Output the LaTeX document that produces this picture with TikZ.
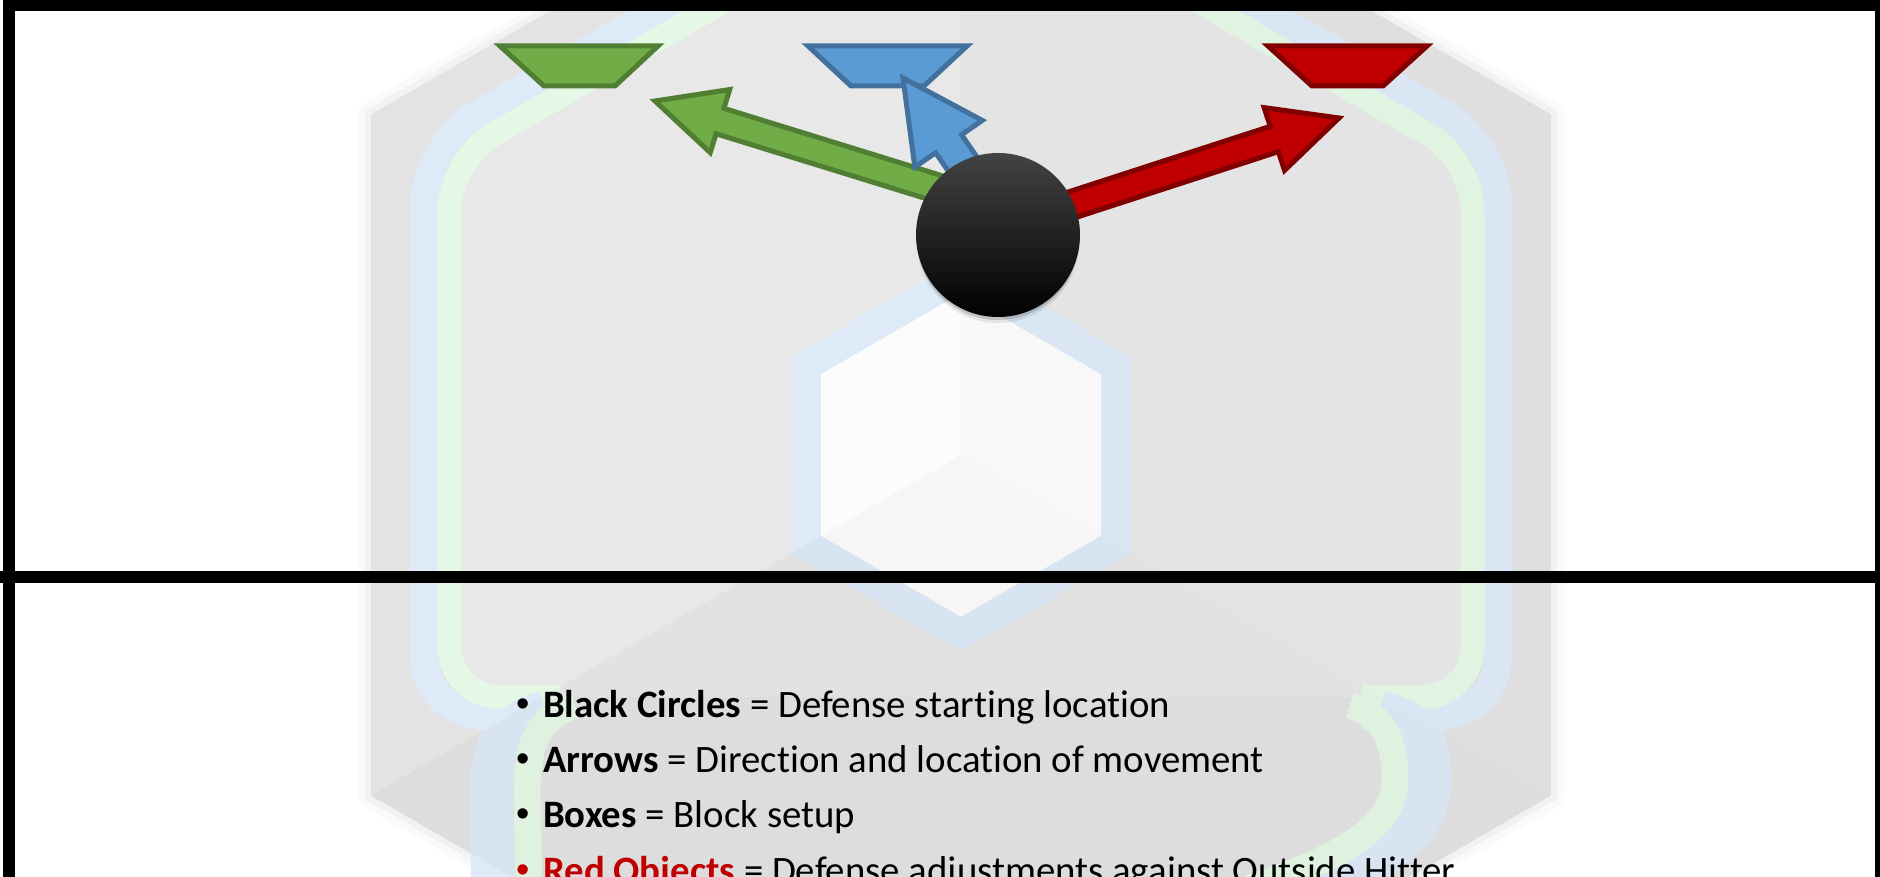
\documentclass[tikz,border=0pt]{standalone}
\usepackage{fontspec}
\setmainfont{Carlito}[Ligatures=NoCommon]
\newfontfamily\bulletfont{Liberation Sans}
\usetikzlibrary{calc}
\definecolor{grnfill}{HTML}{70AD47}
\definecolor{grnline}{HTML}{507E32}
\definecolor{blufill}{HTML}{5B9BD5}
\definecolor{bluline}{HTML}{41719C}
\definecolor{redfill}{HTML}{C00000}
\definecolor{redline}{HTML}{800000}
\definecolor{hexgrey}{HTML}{E3E3E3}
\definecolor{ugrey}{HTML}{E8E8E8}
\definecolor{wmblue}{HTML}{DEEAF8}
\definecolor{wmgreen}{HTML}{E5F8E5}
\definecolor{ringblue}{HTML}{DEEAF8}
\definecolor{cubewhite}{HTML}{FCFCFC}
\definecolor{glowA}{HTML}{FAFAFA}
\definecolor{glowB}{HTML}{F2F2F2}
\definecolor{balltop}{HTML}{434343}
\newcommand\blockarrow[7]{%
  \coordinate (#1-b) at ($(#3)!#6!(#2)$);
  \draw[#7] ($(#2)!#4!90:(#3)$) -- ($(#1-b)!#4!90:(#3)$) -- ($(#1-b)!#5!90:(#3)$)
    -- (#3) -- ($(#1-b)!#5!-90:(#3)$) -- ($(#1-b)!#4!-90:(#3)$) -- ($(#2)!#4!-90:(#3)$) -- cycle;
}
\tikzset{
  greenshape/.style={fill=grnfill, draw=grnline, line width=5pt},
  blueshape/.style={fill=blufill, draw=bluline, line width=5pt},
  redshape/.style={fill=redfill, draw=redline, line width=5pt},
  frameline/.style={draw=black, line width=12pt},
  legend/.style={anchor=base west, inner sep=0pt, font=\fontsize{38.8}{46}\selectfont},
  bulletmark/.style={anchor=base west, inner sep=0pt, font=\bulletfont\fontsize{38}{46}\selectfont},
}
\begin{document}
\begin{tikzpicture}[x=1pt,y=-1pt]
\useasboundingbox (0,0) rectangle (1880,877);
\clip (0,0) rectangle (1880,877);
\fill[white] (0,0) rectangle (1880,877);
% ---------- watermark ----------
\coordinate (hT) at (961,-226.3);
\coordinate (hUR) at (1551,114.4);
\coordinate (hLR) at (1551,795.6);
\coordinate (hB) at (961,1136.3);
\coordinate (hLL) at (371,795.6);
\coordinate (hUL) at (371,114.4);
\coordinate (hC) at (961,455);
\draw[glowA, line width=26pt, line join=round] (hT) -- (hUR) -- (hLR) -- (hB) -- (hLL) -- (hUL) -- cycle;
\draw[glowB, line width=12pt, line join=round] (hT) -- (hUR) -- (hLR) -- (hB) -- (hLL) -- (hUL) -- cycle;
\fill[hexgrey] (hT) -- (hUR) -- (hLR) -- (hB) -- (hLL) -- (hUL) -- cycle;
% interior of the U
\fill[ugrey, rounded corners=50pt] (560,697) -- (449.5,697) -- (449.5,160) -- (961,-136) -- (1472.5,160) -- (1472.5,697) -- (1362,697) -- cycle;
% U bands
\draw[wmblue, line width=28pt, rounded corners=60pt] (560,716) -- (424,716) -- (424,145) -- (961,-165) -- (1498,145) -- (1498,716) -- (1362,716);
\draw[wmgreen, line width=24pt, rounded corners=50pt] (560,697) -- (449.5,697) -- (449.5,160) -- (961,-136) -- (1472.5,160) -- (1472.5,697) -- (1362,697);
% lower lobe
\draw[wmblue, line width=43pt] (545,712) .. controls (505,722) and (491,748) .. (491,790) -- (493,900);
\draw[wmgreen, line width=27pt] (575,705) .. controls (540,716) and (527,742) .. (527,790) -- (529,900);
\draw[wmblue, line width=43pt] (1380,712) .. controls (1420,722) and (1430,745) .. (1430,780) .. controls (1430,830) and (1385,862) .. (1300,890);
\draw[wmgreen, line width=27pt] (1350,705) .. controls (1385,716) and (1395,742) .. (1395,780) .. controls (1395,825) and (1345,857) .. (1250,888);
% inner ring and cube
\fill[ringblue] (961,258.7) -- (1131,356.9) -- (1131,553.1) -- (961,651.3) -- (791,553.1) -- (791,356.9) -- cycle;
\fill[cubewhite] (961,293.3) -- (1101,374.2) -- (1101,535.8) -- (961,616.7) -- (821,535.8) -- (821,374.2) -- cycle;
% face shading of the big cube
\fill[black, opacity=0.015] (hT) -- (hC) -- (hLR) -- (hUR) -- cycle;
\fill[black, opacity=0.025] (hC) -- (hLL) -- (hB) -- (hLR) -- cycle;
% ---------- frame ----------
\draw[frameline] (8.5,900) -- (8.5,5.5) -- (1881,5.5) -- (1881,900);
\draw[frameline] (0,577) -- (1880,577);
% ---------- block boxes ----------
\draw[greenshape] (500,46) -- (658,46) -- (615,86) -- (544,86) -- cycle;
\draw[blueshape] (808,46) -- (967,46) -- (924,86) -- (851,86) -- cycle;
\draw[redshape] (1268,46) -- (1427,46) -- (1383,86) -- (1312,86) -- cycle;
% ---------- movement arrows ----------
\coordinate (ballc) at (998,235);
\coordinate (gtail) at (995,206);
\coordinate (gtip) at (655,101);
\coordinate (btail) at (1000,218);
\coordinate (btip) at (903,78);
\coordinate (rtail) at (985,233);
\coordinate (rtip) at (1339,118);
\blockarrow{ga}{gtail}{gtip}{13.3pt}{33pt}{68pt}{greenshape}
\blockarrow{ba}{btail}{btip}{15.8pt}{41pt}{80pt}{blueshape}
\blockarrow{ra}{rtail}{rtip}{13.3pt}{33pt}{68pt}{redshape}
% ---------- defender ----------
\fill[black, opacity=0.08] (998,242) circle (81);
\fill[black, opacity=0.15] (998,239) circle (81);
\node[circle, minimum size=164pt, inner sep=0pt, top color=balltop, middle color=black, bottom color=black] (ball) at (ballc) {};
% ---------- legend ----------
\node[bulletmark] (b1) at (516,716) {•};
\node[legend] (t1) at (543,717) {\textbf{Black Circles} = Defense starting location};
\node[bulletmark] (b2) at (516,771) {•};
\node[legend] (t2) at (543,772) {\textbf{Arrows} = Direction and location of movement};
\node[bulletmark] (b3) at (516,826.5) {•};
\node[legend] (t3) at (543,827.5) {\textbf{Boxes} = Block setup};
\node[bulletmark, text=redfill] (b4) at (516,882) {•};
\node[legend] (t4) at (543,883) {\textcolor{redfill}{\textbf{Red Objects}} = Defense adjustments against Outside Hitter};
\end{tikzpicture}
\end{document}
